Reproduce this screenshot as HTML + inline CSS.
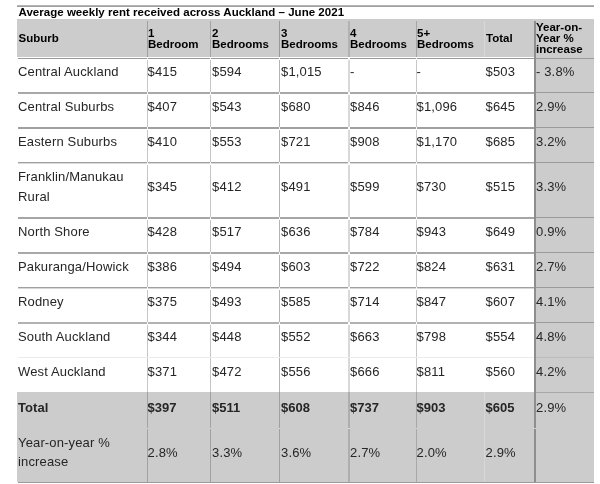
<!DOCTYPE html>
<html><head><meta charset="utf-8"><style>
html,body{margin:0;padding:0;background:#fff;width:600px;height:484px;overflow:hidden}
#w{position:absolute;left:0;top:0;width:600px;height:484px;will-change:transform}
#w>div{position:absolute}
.t{font-family:"Liberation Sans",sans-serif;white-space:nowrap}
</style></head><body><div id="w">
<div style="left:17px;top:5px;width:577px;height:1px;background:#b4b4b4"></div>
<div style="left:17px;top:6px;width:577px;height:1px;background:#9e9e9e"></div>
<div class="t" style="left:18.5px;top:6px;font-size:11.5px;line-height:12px;font-weight:bold;letter-spacing:0.03px;color:#000">Average weekly rent received across Auckland &ndash; June 2021</div>
<div style="left:17px;top:19px;width:577px;height:38px;background:#cccccc"></div>
<div style="left:534px;top:57px;width:60px;height:425px;background:#cccccc"></div>
<div style="left:17px;top:392px;width:577px;height:90px;background:#cccccc"></div>
<div style="left:147px;top:21px;width:1px;height:36px;background:#a0a0a0"></div>
<div style="left:147px;top:59px;width:1px;height:333px;background:#c6c6c6"></div>
<div style="left:147px;top:392px;width:1px;height:90px;background:#a2a2a2"></div>
<div style="left:147px;top:428px;width:1px;height:1px;background:#dcdcdc"></div>
<div style="left:210px;top:21px;width:1px;height:36px;background:#a4a4a4"></div>
<div style="left:210px;top:59px;width:1px;height:333px;background:#c4c4c4"></div>
<div style="left:210px;top:392px;width:1px;height:90px;background:#a2a2a2"></div>
<div style="left:210px;top:428px;width:1px;height:1px;background:#dcdcdc"></div>
<div style="left:279px;top:21px;width:1px;height:36px;background:#999999"></div>
<div style="left:279px;top:59px;width:1px;height:333px;background:#b4b4b4"></div>
<div style="left:279px;top:392px;width:1px;height:90px;background:#a0a0a0"></div>
<div style="left:279px;top:428px;width:1px;height:1px;background:#dcdcdc"></div>
<div style="left:348px;top:21px;width:2px;height:36px;background:#b2b2b2"></div>
<div style="left:348px;top:59px;width:2px;height:333px;background:#d8d8d8"></div>
<div style="left:348px;top:392px;width:2px;height:90px;background:#aeaeae"></div>
<div style="left:348px;top:428px;width:2px;height:1px;background:#dcdcdc"></div>
<div style="left:416px;top:21px;width:1px;height:36px;background:#a6a6a6"></div>
<div style="left:416px;top:59px;width:1px;height:333px;background:#c8c8c8"></div>
<div style="left:416px;top:392px;width:1px;height:90px;background:#a8a8a8"></div>
<div style="left:416px;top:428px;width:1px;height:1px;background:#dcdcdc"></div>
<div style="left:484px;top:21px;width:1px;height:36px;background:#d8d8d8"></div>
<div style="left:484px;top:392px;width:1px;height:90px;background:#d8d8d8"></div>
<div style="left:534px;top:21px;width:2px;height:461px;background:#8e8e8e"></div>
<div style="left:534px;top:428px;width:2px;height:1px;background:#d4d4d4"></div>
<div style="left:18px;top:58px;width:516px;height:1px;background:#9a9a9a"></div>
<div style="left:18px;top:92px;width:516px;height:2px;background:#a8a8a8"></div>
<div style="left:18px;top:127px;width:516px;height:2px;background:#a0a0a0"></div>
<div style="left:18px;top:162px;width:516px;height:1px;background:#a0a0a0"></div>
<div style="left:18px;top:163px;width:516px;height:1px;background:#dadada"></div>
<div style="left:18px;top:217px;width:516px;height:2px;background:#a6a6a6"></div>
<div style="left:18px;top:252px;width:516px;height:2px;background:#a8a8a8"></div>
<div style="left:18px;top:287px;width:516px;height:1px;background:#a0a0a0"></div>
<div style="left:18px;top:288px;width:516px;height:1px;background:#d8d8d8"></div>
<div style="left:18px;top:322px;width:516px;height:2px;background:#b2b2b2"></div>
<div style="left:18px;top:357px;width:516px;height:1px;background:#ececec"></div>
<div style="left:147px;top:58px;width:1px;height:2px;background:#fafafa"></div>
<div style="left:210px;top:58px;width:1px;height:2px;background:#fafafa"></div>
<div style="left:279px;top:58px;width:1px;height:2px;background:#fafafa"></div>
<div style="left:348px;top:58px;width:2px;height:2px;background:#fafafa"></div>
<div style="left:416px;top:58px;width:1px;height:2px;background:#fafafa"></div>
<div style="left:147px;top:92px;width:1px;height:3px;background:#fafafa"></div>
<div style="left:210px;top:92px;width:1px;height:3px;background:#fafafa"></div>
<div style="left:279px;top:92px;width:1px;height:3px;background:#fafafa"></div>
<div style="left:348px;top:92px;width:2px;height:3px;background:#fafafa"></div>
<div style="left:416px;top:92px;width:1px;height:3px;background:#fafafa"></div>
<div style="left:147px;top:127px;width:1px;height:3px;background:#fafafa"></div>
<div style="left:210px;top:127px;width:1px;height:3px;background:#fafafa"></div>
<div style="left:279px;top:127px;width:1px;height:3px;background:#fafafa"></div>
<div style="left:348px;top:127px;width:2px;height:3px;background:#fafafa"></div>
<div style="left:416px;top:127px;width:1px;height:3px;background:#fafafa"></div>
<div style="left:147px;top:162px;width:1px;height:3px;background:#fafafa"></div>
<div style="left:210px;top:162px;width:1px;height:3px;background:#fafafa"></div>
<div style="left:279px;top:162px;width:1px;height:3px;background:#fafafa"></div>
<div style="left:348px;top:162px;width:2px;height:3px;background:#fafafa"></div>
<div style="left:416px;top:162px;width:1px;height:3px;background:#fafafa"></div>
<div style="left:147px;top:217px;width:1px;height:3px;background:#fafafa"></div>
<div style="left:210px;top:217px;width:1px;height:3px;background:#fafafa"></div>
<div style="left:279px;top:217px;width:1px;height:3px;background:#fafafa"></div>
<div style="left:348px;top:217px;width:2px;height:3px;background:#fafafa"></div>
<div style="left:416px;top:217px;width:1px;height:3px;background:#fafafa"></div>
<div style="left:147px;top:252px;width:1px;height:3px;background:#fafafa"></div>
<div style="left:210px;top:252px;width:1px;height:3px;background:#fafafa"></div>
<div style="left:279px;top:252px;width:1px;height:3px;background:#fafafa"></div>
<div style="left:348px;top:252px;width:2px;height:3px;background:#fafafa"></div>
<div style="left:416px;top:252px;width:1px;height:3px;background:#fafafa"></div>
<div style="left:147px;top:287px;width:1px;height:3px;background:#fafafa"></div>
<div style="left:210px;top:287px;width:1px;height:3px;background:#fafafa"></div>
<div style="left:279px;top:287px;width:1px;height:3px;background:#fafafa"></div>
<div style="left:348px;top:287px;width:2px;height:3px;background:#fafafa"></div>
<div style="left:416px;top:287px;width:1px;height:3px;background:#fafafa"></div>
<div style="left:147px;top:322px;width:1px;height:3px;background:#fafafa"></div>
<div style="left:210px;top:322px;width:1px;height:3px;background:#fafafa"></div>
<div style="left:279px;top:322px;width:1px;height:3px;background:#fafafa"></div>
<div style="left:348px;top:322px;width:2px;height:3px;background:#fafafa"></div>
<div style="left:416px;top:322px;width:1px;height:3px;background:#fafafa"></div>
<div style="left:147px;top:57px;width:1px;height:1px;background:#f4f4f4"></div>
<div style="left:536px;top:58px;width:58px;height:1px;background:#9a9a9a"></div>
<div style="left:536px;top:92px;width:58px;height:1px;background:#9a9a9a"></div>
<div style="left:536px;top:127px;width:58px;height:1px;background:#9a9a9a"></div>
<div style="left:536px;top:162px;width:58px;height:1px;background:#9a9a9a"></div>
<div style="left:536px;top:217px;width:58px;height:1px;background:#9a9a9a"></div>
<div style="left:536px;top:252px;width:58px;height:1px;background:#9a9a9a"></div>
<div style="left:536px;top:287px;width:58px;height:1px;background:#9a9a9a"></div>
<div style="left:536px;top:322px;width:58px;height:1px;background:#9a9a9a"></div>
<div style="left:536px;top:357px;width:58px;height:1px;background:#bcbcbc"></div>
<div style="left:536px;top:392px;width:58px;height:1px;background:#a8a8a8"></div>
<div style="left:18px;top:482px;width:576px;height:1px;background:#9a9a9a"></div>
<div class="t" style="left:18.5px;top:32px;font-size:11.5px;line-height:12px;font-weight:bold;color:#000">Suburb</div>
<div class="t" style="left:148px;top:26.5px;font-size:11.5px;line-height:12px;font-weight:bold;color:#000">1</div>
<div class="t" style="left:148px;top:37.5px;font-size:11.5px;line-height:12px;font-weight:bold;color:#000">Bedroom</div>
<div class="t" style="left:212px;top:26.5px;font-size:11.5px;line-height:12px;font-weight:bold;color:#000">2</div>
<div class="t" style="left:212px;top:37.5px;font-size:11.5px;line-height:12px;font-weight:bold;color:#000">Bedrooms</div>
<div class="t" style="left:281px;top:26.5px;font-size:11.5px;line-height:12px;font-weight:bold;color:#000">3</div>
<div class="t" style="left:281px;top:37.5px;font-size:11.5px;line-height:12px;font-weight:bold;color:#000">Bedrooms</div>
<div class="t" style="left:350px;top:26.5px;font-size:11.5px;line-height:12px;font-weight:bold;color:#000">4</div>
<div class="t" style="left:350px;top:37.5px;font-size:11.5px;line-height:12px;font-weight:bold;color:#000">Bedrooms</div>
<div class="t" style="left:417px;top:26.5px;font-size:11.5px;line-height:12px;font-weight:bold;color:#000">5+</div>
<div class="t" style="left:417px;top:37.5px;font-size:11.5px;line-height:12px;font-weight:bold;color:#000">Bedrooms</div>
<div class="t" style="left:486px;top:32px;font-size:11.5px;line-height:12px;font-weight:bold;color:#000">Total</div>
<div class="t" style="left:536px;top:20.5px;font-size:11.5px;line-height:12px;font-weight:bold;color:#000">Year-on-</div>
<div class="t" style="left:536px;top:31.799999999999997px;font-size:11.5px;line-height:12px;font-weight:bold;color:#000">Year %</div>
<div class="t" style="left:536px;top:43.1px;font-size:11.5px;line-height:12px;font-weight:bold;color:#000">increase</div>
<div class="t" style="left:18px;top:61.5px;font-size:13px;line-height:20px;letter-spacing:0.15px;color:#262626">Central Auckland</div>
<div class="t" style="left:147.5px;top:61.5px;font-size:13px;line-height:20px;letter-spacing:0.15px;color:#262626">$415</div>
<div class="t" style="left:212px;top:61.5px;font-size:13px;line-height:20px;letter-spacing:0.15px;color:#262626">$594</div>
<div class="t" style="left:281px;top:61.5px;font-size:13px;line-height:20px;letter-spacing:0.15px;color:#262626">$1,015</div>
<div class="t" style="left:350px;top:61.5px;font-size:13px;line-height:20px;letter-spacing:0.15px;color:#262626">-</div>
<div class="t" style="left:416.5px;top:61.5px;font-size:13px;line-height:20px;letter-spacing:0.15px;color:#262626">-</div>
<div class="t" style="left:485.5px;top:61.5px;font-size:13px;line-height:20px;letter-spacing:0.15px;color:#262626">$503</div>
<div class="t" style="left:536px;top:61.5px;font-size:13px;line-height:20px;letter-spacing:0.15px;color:#262626">- 3.8%</div>
<div class="t" style="left:18px;top:97px;font-size:13px;line-height:20px;letter-spacing:0.15px;color:#262626">Central Suburbs</div>
<div class="t" style="left:147.5px;top:97px;font-size:13px;line-height:20px;letter-spacing:0.15px;color:#262626">$407</div>
<div class="t" style="left:212px;top:97px;font-size:13px;line-height:20px;letter-spacing:0.15px;color:#262626">$543</div>
<div class="t" style="left:281px;top:97px;font-size:13px;line-height:20px;letter-spacing:0.15px;color:#262626">$680</div>
<div class="t" style="left:350px;top:97px;font-size:13px;line-height:20px;letter-spacing:0.15px;color:#262626">$846</div>
<div class="t" style="left:416.5px;top:97px;font-size:13px;line-height:20px;letter-spacing:0.15px;color:#262626">$1,096</div>
<div class="t" style="left:485.5px;top:97px;font-size:13px;line-height:20px;letter-spacing:0.15px;color:#262626">$645</div>
<div class="t" style="left:536px;top:97px;font-size:13px;line-height:20px;letter-spacing:0.15px;color:#262626">2.9%</div>
<div class="t" style="left:18px;top:132px;font-size:13px;line-height:20px;letter-spacing:0.15px;color:#262626">Eastern Suburbs</div>
<div class="t" style="left:147.5px;top:132px;font-size:13px;line-height:20px;letter-spacing:0.15px;color:#262626">$410</div>
<div class="t" style="left:212px;top:132px;font-size:13px;line-height:20px;letter-spacing:0.15px;color:#262626">$553</div>
<div class="t" style="left:281px;top:132px;font-size:13px;line-height:20px;letter-spacing:0.15px;color:#262626">$721</div>
<div class="t" style="left:350px;top:132px;font-size:13px;line-height:20px;letter-spacing:0.15px;color:#262626">$908</div>
<div class="t" style="left:416.5px;top:132px;font-size:13px;line-height:20px;letter-spacing:0.15px;color:#262626">$1,170</div>
<div class="t" style="left:485.5px;top:132px;font-size:13px;line-height:20px;letter-spacing:0.15px;color:#262626">$685</div>
<div class="t" style="left:536px;top:132px;font-size:13px;line-height:20px;letter-spacing:0.15px;color:#262626">3.2%</div>
<div class="t" style="left:18px;top:166.75px;font-size:13px;line-height:20px;letter-spacing:0.15px;color:#262626">Franklin/Manukau</div>
<div class="t" style="left:18px;top:186.75px;font-size:13px;line-height:20px;letter-spacing:0.15px;color:#262626">Rural</div>
<div class="t" style="left:147.5px;top:176.5px;font-size:13px;line-height:20px;letter-spacing:0.15px;color:#262626">$345</div>
<div class="t" style="left:212px;top:176.5px;font-size:13px;line-height:20px;letter-spacing:0.15px;color:#262626">$412</div>
<div class="t" style="left:281px;top:176.5px;font-size:13px;line-height:20px;letter-spacing:0.15px;color:#262626">$491</div>
<div class="t" style="left:350px;top:176.5px;font-size:13px;line-height:20px;letter-spacing:0.15px;color:#262626">$599</div>
<div class="t" style="left:416.5px;top:176.5px;font-size:13px;line-height:20px;letter-spacing:0.15px;color:#262626">$730</div>
<div class="t" style="left:485.5px;top:176.5px;font-size:13px;line-height:20px;letter-spacing:0.15px;color:#262626">$515</div>
<div class="t" style="left:536px;top:176.5px;font-size:13px;line-height:20px;letter-spacing:0.15px;color:#262626">3.3%</div>
<div class="t" style="left:18px;top:221.5px;font-size:13px;line-height:20px;letter-spacing:0.15px;color:#262626">North Shore</div>
<div class="t" style="left:147.5px;top:221.5px;font-size:13px;line-height:20px;letter-spacing:0.15px;color:#262626">$428</div>
<div class="t" style="left:212px;top:221.5px;font-size:13px;line-height:20px;letter-spacing:0.15px;color:#262626">$517</div>
<div class="t" style="left:281px;top:221.5px;font-size:13px;line-height:20px;letter-spacing:0.15px;color:#262626">$636</div>
<div class="t" style="left:350px;top:221.5px;font-size:13px;line-height:20px;letter-spacing:0.15px;color:#262626">$784</div>
<div class="t" style="left:416.5px;top:221.5px;font-size:13px;line-height:20px;letter-spacing:0.15px;color:#262626">$943</div>
<div class="t" style="left:485.5px;top:221.5px;font-size:13px;line-height:20px;letter-spacing:0.15px;color:#262626">$649</div>
<div class="t" style="left:536px;top:221.5px;font-size:13px;line-height:20px;letter-spacing:0.15px;color:#262626">0.9%</div>
<div class="t" style="left:18px;top:256.5px;font-size:13px;line-height:20px;letter-spacing:0.15px;color:#262626">Pakuranga/Howick</div>
<div class="t" style="left:147.5px;top:256.5px;font-size:13px;line-height:20px;letter-spacing:0.15px;color:#262626">$386</div>
<div class="t" style="left:212px;top:256.5px;font-size:13px;line-height:20px;letter-spacing:0.15px;color:#262626">$494</div>
<div class="t" style="left:281px;top:256.5px;font-size:13px;line-height:20px;letter-spacing:0.15px;color:#262626">$603</div>
<div class="t" style="left:350px;top:256.5px;font-size:13px;line-height:20px;letter-spacing:0.15px;color:#262626">$722</div>
<div class="t" style="left:416.5px;top:256.5px;font-size:13px;line-height:20px;letter-spacing:0.15px;color:#262626">$824</div>
<div class="t" style="left:485.5px;top:256.5px;font-size:13px;line-height:20px;letter-spacing:0.15px;color:#262626">$631</div>
<div class="t" style="left:536px;top:256.5px;font-size:13px;line-height:20px;letter-spacing:0.15px;color:#262626">2.7%</div>
<div class="t" style="left:18px;top:291.5px;font-size:13px;line-height:20px;letter-spacing:0.15px;color:#262626">Rodney</div>
<div class="t" style="left:147.5px;top:291.5px;font-size:13px;line-height:20px;letter-spacing:0.15px;color:#262626">$375</div>
<div class="t" style="left:212px;top:291.5px;font-size:13px;line-height:20px;letter-spacing:0.15px;color:#262626">$493</div>
<div class="t" style="left:281px;top:291.5px;font-size:13px;line-height:20px;letter-spacing:0.15px;color:#262626">$585</div>
<div class="t" style="left:350px;top:291.5px;font-size:13px;line-height:20px;letter-spacing:0.15px;color:#262626">$714</div>
<div class="t" style="left:416.5px;top:291.5px;font-size:13px;line-height:20px;letter-spacing:0.15px;color:#262626">$847</div>
<div class="t" style="left:485.5px;top:291.5px;font-size:13px;line-height:20px;letter-spacing:0.15px;color:#262626">$607</div>
<div class="t" style="left:536px;top:291.5px;font-size:13px;line-height:20px;letter-spacing:0.15px;color:#262626">4.1%</div>
<div class="t" style="left:18px;top:326.5px;font-size:13px;line-height:20px;letter-spacing:0.15px;color:#262626">South Auckland</div>
<div class="t" style="left:147.5px;top:326.5px;font-size:13px;line-height:20px;letter-spacing:0.15px;color:#262626">$344</div>
<div class="t" style="left:212px;top:326.5px;font-size:13px;line-height:20px;letter-spacing:0.15px;color:#262626">$448</div>
<div class="t" style="left:281px;top:326.5px;font-size:13px;line-height:20px;letter-spacing:0.15px;color:#262626">$552</div>
<div class="t" style="left:350px;top:326.5px;font-size:13px;line-height:20px;letter-spacing:0.15px;color:#262626">$663</div>
<div class="t" style="left:416.5px;top:326.5px;font-size:13px;line-height:20px;letter-spacing:0.15px;color:#262626">$798</div>
<div class="t" style="left:485.5px;top:326.5px;font-size:13px;line-height:20px;letter-spacing:0.15px;color:#262626">$554</div>
<div class="t" style="left:536px;top:326.5px;font-size:13px;line-height:20px;letter-spacing:0.15px;color:#262626">4.8%</div>
<div class="t" style="left:18px;top:362px;font-size:13px;line-height:20px;letter-spacing:0.15px;color:#262626">West Auckland</div>
<div class="t" style="left:147.5px;top:362px;font-size:13px;line-height:20px;letter-spacing:0.15px;color:#262626">$371</div>
<div class="t" style="left:212px;top:362px;font-size:13px;line-height:20px;letter-spacing:0.15px;color:#262626">$472</div>
<div class="t" style="left:281px;top:362px;font-size:13px;line-height:20px;letter-spacing:0.15px;color:#262626">$556</div>
<div class="t" style="left:350px;top:362px;font-size:13px;line-height:20px;letter-spacing:0.15px;color:#262626">$666</div>
<div class="t" style="left:416.5px;top:362px;font-size:13px;line-height:20px;letter-spacing:0.15px;color:#262626">$811</div>
<div class="t" style="left:485.5px;top:362px;font-size:13px;line-height:20px;letter-spacing:0.15px;color:#262626">$560</div>
<div class="t" style="left:536px;top:362px;font-size:13px;line-height:20px;letter-spacing:0.15px;color:#262626">4.2%</div>
<div class="t" style="left:18px;top:397.5px;font-size:13px;line-height:20px;font-weight:bold;letter-spacing:0.05px;color:#262626">Total</div>
<div class="t" style="left:147.5px;top:397.5px;font-size:13px;line-height:20px;font-weight:bold;letter-spacing:0.05px;color:#262626">$397</div>
<div class="t" style="left:212px;top:397.5px;font-size:13px;line-height:20px;font-weight:bold;letter-spacing:0.05px;color:#262626">$511</div>
<div class="t" style="left:281px;top:397.5px;font-size:13px;line-height:20px;font-weight:bold;letter-spacing:0.05px;color:#262626">$608</div>
<div class="t" style="left:350px;top:397.5px;font-size:13px;line-height:20px;font-weight:bold;letter-spacing:0.05px;color:#262626">$737</div>
<div class="t" style="left:416.5px;top:397.5px;font-size:13px;line-height:20px;font-weight:bold;letter-spacing:0.05px;color:#262626">$903</div>
<div class="t" style="left:485.5px;top:397.5px;font-size:13px;line-height:20px;font-weight:bold;letter-spacing:0.05px;color:#262626">$605</div>
<div class="t" style="left:536px;top:397.5px;font-size:13px;line-height:20px;letter-spacing:0.15px;color:#262626">2.9%</div>
<div class="t" style="left:18px;top:432.5px;font-size:13px;line-height:20px;letter-spacing:0.15px;color:#262626">Year-on-year %</div>
<div class="t" style="left:18px;top:452px;font-size:13px;line-height:20px;letter-spacing:0.15px;color:#262626">increase</div>
<div class="t" style="left:147.5px;top:442.5px;font-size:13px;line-height:20px;letter-spacing:0.15px;color:#262626">2.8%</div>
<div class="t" style="left:212px;top:442.5px;font-size:13px;line-height:20px;letter-spacing:0.15px;color:#262626">3.3%</div>
<div class="t" style="left:281px;top:442.5px;font-size:13px;line-height:20px;letter-spacing:0.15px;color:#262626">3.6%</div>
<div class="t" style="left:350px;top:442.5px;font-size:13px;line-height:20px;letter-spacing:0.15px;color:#262626">2.7%</div>
<div class="t" style="left:416.5px;top:442.5px;font-size:13px;line-height:20px;letter-spacing:0.15px;color:#262626">2.0%</div>
<div class="t" style="left:485.5px;top:442.5px;font-size:13px;line-height:20px;letter-spacing:0.15px;color:#262626">2.9%</div>
</div></body></html>
